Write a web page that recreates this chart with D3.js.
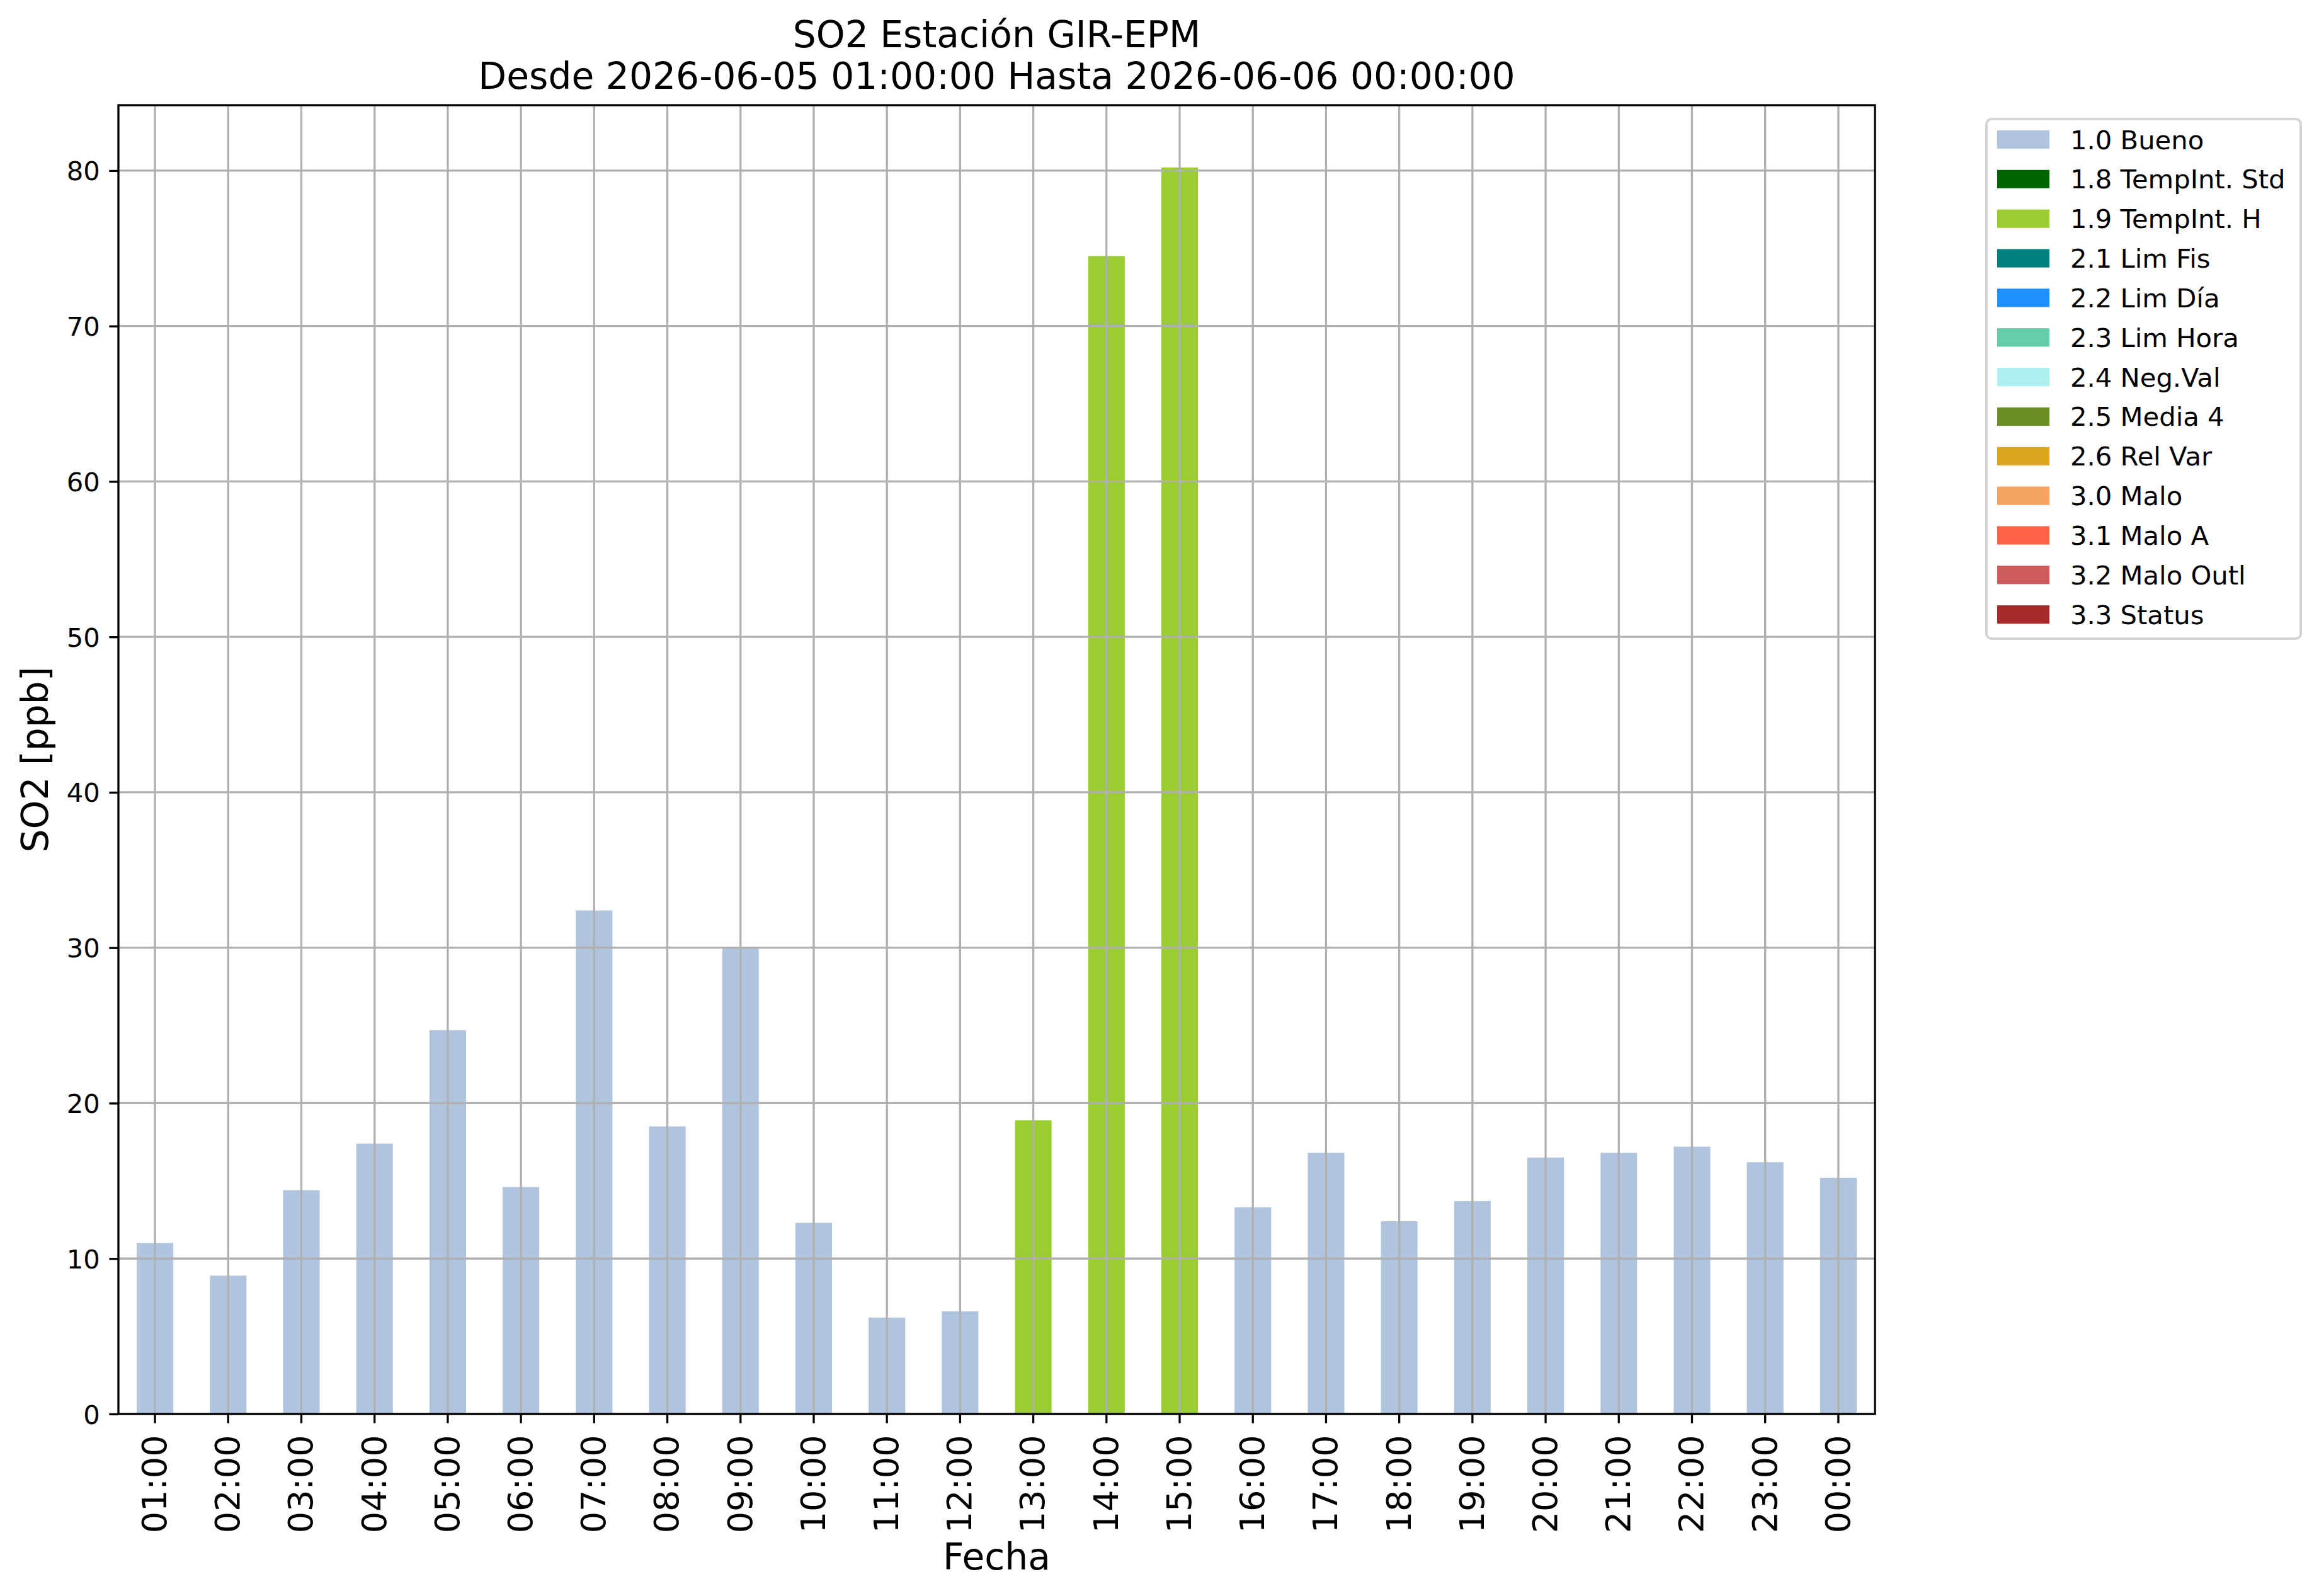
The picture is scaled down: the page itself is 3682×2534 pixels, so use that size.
<!DOCTYPE html>
<html>
<head>
<meta charset="utf-8">
<script src="https://cdn.jsdelivr.net/npm/d3@7"></script>
<style>
  html, body { margin: 0; padding: 0; background: #fff; }
  svg { display: block; font-family: "DejaVu Sans", sans-serif; }
</style>
</head>
<body>
<svg id="chart" width="3682" height="2534"></svg>
<script>
// data
const hours = ["01:00", "02:00", "03:00", "04:00", "05:00", "06:00", "07:00", "08:00",
  "09:00", "10:00", "11:00", "12:00", "13:00", "14:00", "15:00", "16:00",
  "17:00", "18:00", "19:00", "20:00", "21:00", "22:00", "23:00", "00:00"];
const so2Values = [11.0, 8.9, 14.4, 17.4, 24.7, 14.6, 32.4, 18.5, 30.0, 12.3, 6.2, 6.6,
  18.9, 74.5, 80.2, 13.3, 16.8, 12.4, 13.7, 16.5, 16.8, 17.2, 16.2, 15.2];
const flagCodes = ["1.0 Bueno", "1.0 Bueno", "1.0 Bueno", "1.0 Bueno", "1.0 Bueno", "1.0 Bueno",
  "1.0 Bueno", "1.0 Bueno", "1.0 Bueno", "1.0 Bueno", "1.0 Bueno", "1.0 Bueno",
  "1.9 TempInt. H", "1.9 TempInt. H", "1.9 TempInt. H", "1.0 Bueno", "1.0 Bueno", "1.0 Bueno",
  "1.0 Bueno", "1.0 Bueno", "1.0 Bueno", "1.0 Bueno", "1.0 Bueno", "1.0 Bueno"];
const flagLabels = ["1.0 Bueno", "1.8 TempInt. Std", "1.9 TempInt. H", "2.1 Lim Fis", "2.2 Lim Día",
  "2.3 Lim Hora", "2.4 Neg.Val", "2.5 Media 4", "2.6 Rel Var", "3.0 Malo", "3.1 Malo A",
  "3.2 Malo Outl", "3.3 Status"];
const flagColors = ["#b0c4de", "#006400", "#9acd32", "#008080", "#1e90ff", "#66cdaa", "#afeeee",
  "#6b8e23", "#daa520", "#f4a460", "#ff6347", "#cd5c5c", "#a52a2a"];
const yTicks = [0, 10, 20, 30, 40, 50, 60, 70, 80];
const titleLines = ["SO2 Estación GIR-EPM", "Desde 2026-06-05 01:00:00 Hasta 2026-06-06 00:00:00"];

const rows = hours.map((h, i) => ({ hour: h, value: so2Values[i], flag: flagCodes[i] }));

const plot = { left: 188, right: 2977, top: 167, bottom: 2245 };
const tickLen = 14.6, tickPad = 14.6;
const lw = 3.3;

const svg = d3.select("#chart");
svg.append("rect").attr("width", 3682).attr("height", 2534).attr("fill", "#fff");

const x = d3.scaleBand()
  .domain(hours)
  .range([plot.left, plot.right])
  .paddingInner(0.5)
  .paddingOuter(0.25);

const y = d3.scaleLinear()
  .domain([0, d3.max(so2Values) * 1.05])
  .range([plot.bottom, plot.top]);

const color = d3.scaleOrdinal().domain(flagLabels).range(flagColors);

// bars
svg.append("g")
  .selectAll("rect")
  .data(rows)
  .join("rect")
  .attr("x", d => x(d.hour))
  .attr("y", d => y(d.value))
  .attr("width", x.bandwidth())
  .attr("height", d => y(0) - y(d.value))
  .attr("fill", d => color(d.flag));

// grid (drawn over the bars, like the original)
const grid = svg.append("g").attr("stroke", "#b0b0b0").attr("stroke-width", lw);
grid.selectAll(".hgrid")
  .data(yTicks)
  .join("line")
  .attr("class", "hgrid")
  .attr("x1", plot.left).attr("x2", plot.right)
  .attr("y1", d => y(d)).attr("y2", d => y(d));
grid.selectAll(".vgrid")
  .data(hours)
  .join("line")
  .attr("class", "vgrid")
  .attr("x1", d => x(d) + x.bandwidth() / 2).attr("x2", d => x(d) + x.bandwidth() / 2)
  .attr("y1", plot.top).attr("y2", plot.bottom);

// y axis
const yAxis = svg.append("g")
  .attr("transform", `translate(${plot.left},0)`)
  .call(d3.axisLeft(y).tickValues(yTicks).tickSize(tickLen).tickPadding(tickPad).tickFormat(d3.format("d")));
yAxis.select(".domain").remove();
yAxis.selectAll(".tick line").attr("stroke", "#000").attr("stroke-width", lw);
yAxis.selectAll(".tick text")
  .attr("font-family", "DejaVu Sans")
  .attr("font-size", 41.7)
  .attr("fill", "#000")
  .attr("dy", "0.36em");

// x axis
const xAxis = svg.append("g")
  .attr("transform", `translate(0,${plot.bottom})`)
  .call(d3.axisBottom(x).tickSize(tickLen).tickPadding(tickPad));
xAxis.select(".domain").remove();
xAxis.selectAll(".tick line").attr("stroke", "#000").attr("stroke-width", lw);
xAxis.selectAll(".tick text")
  .attr("font-family", "DejaVu Sans")
  .attr("font-size", 54.2)
  .attr("fill", "#000")
  .attr("transform", "rotate(-90)")
  .attr("text-anchor", "end")
  .attr("x", -(tickLen + tickPad + 4))
  .attr("y", 0)
  .attr("dy", "0.33em");

// frame
svg.append("rect")
  .attr("x", plot.left).attr("y", plot.top)
  .attr("width", plot.right - plot.left).attr("height", plot.bottom - plot.top)
  .attr("fill", "none").attr("stroke", "#000").attr("stroke-width", lw);

// titles and axis labels
const cx = (plot.left + plot.right) / 2;
svg.append("g")
  .selectAll("text")
  .data(titleLines)
  .join("text")
  .attr("x", cx)
  .attr("y", (d, i) => 75 + i * 66)
  .attr("text-anchor", "middle")
  .attr("font-size", 58.3)
  .text(d => d);

svg.append("text")
  .attr("transform", `translate(76,${(plot.top + plot.bottom) / 2}) rotate(-90)`)
  .attr("text-anchor", "middle")
  .attr("font-size", 58.3)
  .text("SO2 [ppb]");

svg.append("text")
  .attr("x", cx).attr("y", 2492)
  .attr("text-anchor", "middle")
  .attr("font-size", 58.3)
  .text("Fecha");

// legend
const legend = svg.append("g");
legend.append("rect")
  .attr("x", 3154).attr("y", 189)
  .attr("width", 499).attr("height", 825)
  .attr("rx", 8).attr("ry", 8)
  .attr("fill", "#fff").attr("fill-opacity", 0.8)
  .attr("stroke", "#d4d4d4").attr("stroke-width", 4);

const item = legend.selectAll(".item")
  .data(flagLabels)
  .join("g")
  .attr("class", "item")
  .attr("transform", (d, i) => `translate(0,${221.5 + i * 62.85})`);
item.append("rect")
  .attr("x", 3171).attr("y", -14.6)
  .attr("width", 83).attr("height", 29.2)
  .attr("fill", d => color(d));
item.append("text")
  .attr("x", 3287).attr("y", 0)
  .attr("dy", "0.36em")
  .attr("font-size", 41.7)
  .text(d => d);
</script>
</body>
</html>
